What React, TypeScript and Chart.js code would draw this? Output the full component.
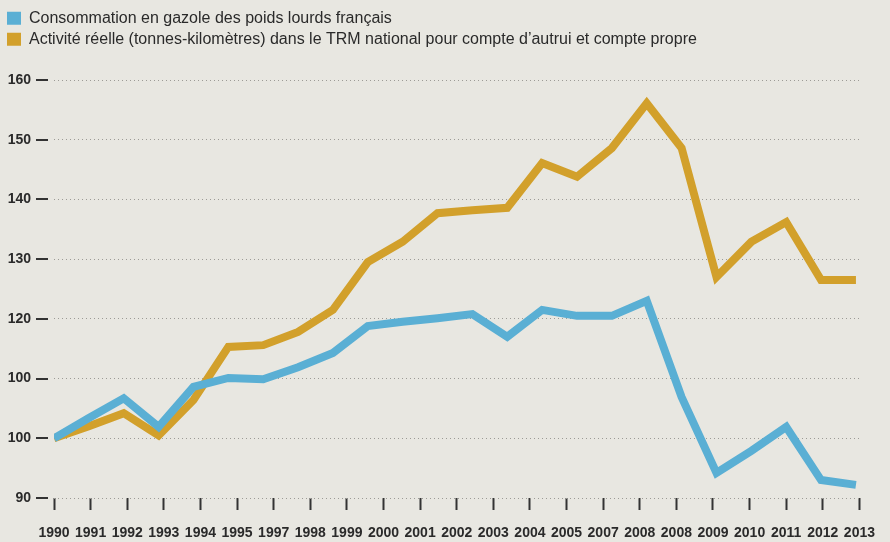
import React, { useEffect, useRef } from 'react';
import { Chart, registerables } from 'chart.js';

Chart.register(...registerables);

// ---- data ----
const years = [
  1990, 1991, 1992, 1993, 1994, 1995, 1996, 1997, 1998, 1999, 2000, 2001,
  2002, 2003, 2004, 2005, 2006, 2007, 2008, 2009, 2010, 2011, 2012, 2013,
];
const gazole = [
  100.0, 103.4, 106.7, 101.9, 108.6, 110.1, 109.9, 111.9, 114.3, 118.8, 119.5, 120.1,
  120.8, 117.0, 121.5, 120.5, 120.5, 123.0, 106.9, 94.2, 97.9, 101.9, 93.0, 92.2,
];
const activite = [
  100.0, 102.0, 104.2, 100.5, 106.4, 115.3, 115.6, 117.8, 121.5, 129.5, 132.9, 137.7,
  138.2, 138.6, 146.1, 143.8, 148.6, 156.1, 148.6, 127.0, 132.9, 136.2, 126.5, 126.5,
];
const xTickLabels = [
  '1990', '1991', '1992', '1993', '1994', '1995', '1997', '1998', '1999', '2000', '2001', '2002',
  '2003', '2004', '2005', '2007', '2008', '2008', '2009', '2010', '2011', '2012', '2013',
];
const yTickLabels = ['90', '100', '100', '120', '130', '140', '150', '160'];
const seriesNames = [
  'Consommation en gazole des poids lourds français',
  'Activité réelle (tonnes-kilomètres) dans le TRM national pour compte d’autrui et compte propre',
];
const seriesColors = ['#5aafd4', '#d2a02b'];

// ---- style ----
const BG = '#e8e7e1';
const FONT = '"Liberation Sans", Arial, sans-serif';
const TEXT = '#2a2a2a';

const bgPlugin = {
  id: 'bgFill',
  beforeDraw(chart: any) {
    const { ctx, width, height } = chart;
    ctx.save();
    ctx.fillStyle = BG;
    ctx.fillRect(0, 0, width, height);
    ctx.restore();
  },
};

const yDashPlugin = {
  id: 'yDash',
  afterDraw(chart: any) {
    const s = chart.scales.y;
    const { ctx, chartArea } = chart;
    ctx.save();
    ctx.strokeStyle = '#333333';
    ctx.lineWidth = 2;
    s.ticks.forEach((t: any) => {
      const y = Math.round(s.getPixelForValue(t.value));
      ctx.beginPath();
      ctx.moveTo(chartArea.left - 18, y);
      ctx.lineTo(chartArea.left - 6, y);
      ctx.stroke();
    });
    ctx.restore();
  },
};

export default function App() {
  const ref = useRef<HTMLCanvasElement>(null);

  useEffect(() => {
    const series = [gazole, activite];
    const chart = new Chart(ref.current as HTMLCanvasElement, {
      type: 'line',
      data: {
        datasets: series.map((vals, i) => ({
          label: seriesNames[i],
          data: years.map((x, j) => ({ x, y: vals[j] })),
          borderColor: seriesColors[i],
          backgroundColor: seriesColors[i],
          borderWidth: 8,
          pointRadius: 0,
          pointHoverRadius: 0,
          tension: 0,
          fill: false,
          borderJoinStyle: 'miter',
          borderCapStyle: 'butt',
          xAxisID: 'x',
          yAxisID: 'y',
        })),
      },
      options: {
        responsive: false,
        animation: false,
        devicePixelRatio: 1,
        events: [],
        layout: { padding: { left: 2, right: 28, top: 0, bottom: 0 } },
        plugins: {
          legend: {
            position: 'top',
            align: 'start',
            weight: 1000,
            labels: {
              boxWidth: 14,
              boxHeight: 13,
              padding: 5,
              color: TEXT,
              font: { family: FONT, size: 16 },
              generateLabels: () =>
                seriesNames.map((t, i) => ({
                  text: t,
                  fillStyle: seriesColors[i],
                  strokeStyle: seriesColors[i],
                  lineWidth: 0,
                  hidden: false,
                  datasetIndex: i,
                  fontColor: TEXT,
                })),
            },
            title: {
              display: true,
              text: '',
              padding: { top: 4, bottom: 0 },
              font: { size: 1, lineHeight: 1.2 },
            },
          },
          title: {
            display: true,
            text: '',
            position: 'top',
            weight: 10,
            padding: { top: 0, bottom: 12.8 },
            font: { size: 10, lineHeight: 1 },
          },
          tooltip: { enabled: false },
        },
        scales: {
          x: {
            type: 'linear',
            min: 1990,
            max: 2013.1,
            display: false,
          },
          xl: {
            type: 'category',
            labels: xTickLabels,
            position: 'bottom',
            offset: false,
            grid: {
              drawOnChartArea: false,
              drawTicks: true,
              tickLength: 12,
              tickWidth: 2,
              tickColor: '#333333',
              color: '#333333',
            },
            border: { display: false },
            ticks: {
              autoSkip: false,
              maxRotation: 0,
              minRotation: 0,
              padding: 15,
              color: TEXT,
              font: { family: FONT, size: 14, weight: 'bold' },
            },
            afterFit: (s: any) => {
              s.height = 44;
            },
          },
          y: {
            type: 'linear',
            min: 90,
            max: 160,
            position: 'left',
            ticks: {
              stepSize: 10,
              padding: 23,
              color: TEXT,
              font: { family: FONT, size: 14, weight: 'bold' },
              callback: (_v: any, i: number) => yTickLabels[i],
            },
            grid: {
              color: '#9c9b96',
              lineWidth: 1,
              drawTicks: false,
            },
            border: { display: false, dash: [1, 3] },
            afterFit: (s: any) => {
              s.width = 52;
            },
          },
        },
      } as any,
      plugins: [bgPlugin, yDashPlugin],
    });
    return () => chart.destroy();
  }, []);

  return (
    <div style={{ position: 'fixed', left: 0, top: 0, width: 890, height: 542, background: BG }}>
      <canvas ref={ref} width={890} height={542} style={{ display: 'block', width: 890, height: 542 }} />
    </div>
  );
}
